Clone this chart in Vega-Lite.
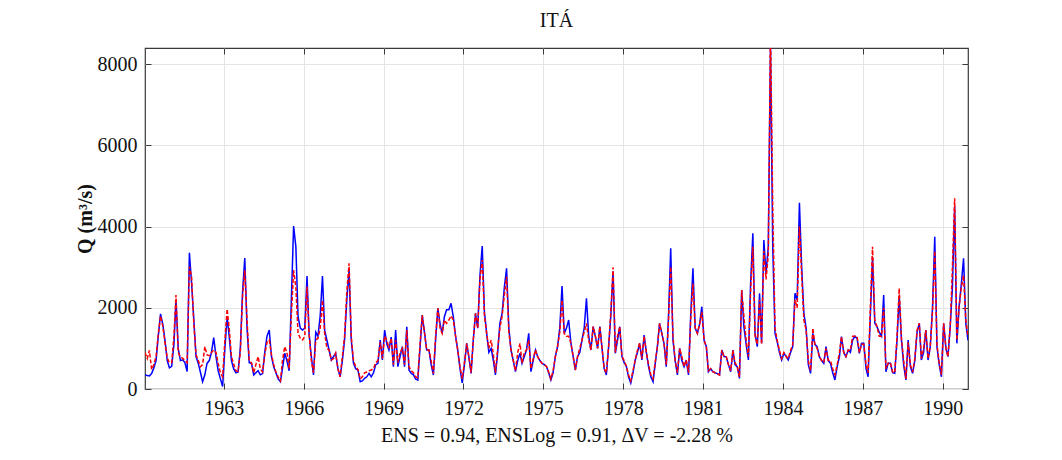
{
  "$schema": "https://vega.github.io/schema/vega-lite/v6.json",
  "autosize": "none",
  "width": 823,
  "height": 341,
  "padding": {"left": 145, "top": 48, "right": 94, "bottom": 71},
  "background": "white",
  "title": {"text": "ITÁ", "font": "Liberation Serif", "fontSize": 20, "fontWeight": "normal", "color": "#111", "offset": 17},
  "config": {
    "view": {"stroke": "#3a3a3a", "strokeWidth": 1.2},
    "axis": {"labelFont": "Liberation Serif", "titleFont": "Liberation Serif", "labelColor": "#111", "titleColor": "#111", "domain": false, "tickColor": "#3a3a3a"}
  },
  "data": {"values": [
    {"date":"1960-01-15","obs":350,"sim":900},{"date":"1960-02-15","obs":330,"sim":750},{"date":"1960-03-15","obs":320,"sim":950},{"date":"1960-04-15","obs":380,"sim":480},{"date":"1960-05-15","obs":520,"sim":600},{"date":"1960-06-15","obs":700,"sim":800},{"date":"1960-07-15","obs":1300,"sim":1350},{"date":"1960-08-15","obs":1850,"sim":1800},{"date":"1960-09-15","obs":1600,"sim":1550},{"date":"1960-10-15","obs":1200,"sim":1150},{"date":"1960-11-15","obs":700,"sim":760},{"date":"1960-12-15","obs":520,"sim":650},
    {"date":"1961-01-15","obs":560,"sim":650},{"date":"1961-02-15","obs":1100,"sim":1300},{"date":"1961-03-15","obs":2190,"sim":2315},{"date":"1961-04-15","obs":1000,"sim":900},{"date":"1961-05-15","obs":700,"sim":780},{"date":"1961-06-15","obs":720,"sim":760},{"date":"1961-07-15","obs":650,"sim":700},{"date":"1961-08-15","obs":430,"sim":650},{"date":"1961-09-15","obs":3357,"sim":3012},{"date":"1961-10-15","obs":2600,"sim":2767},{"date":"1961-11-15","obs":1700,"sim":1600},{"date":"1961-12-15","obs":800,"sim":850},
    {"date":"1962-01-15","obs":630,"sim":700},{"date":"1962-02-15","obs":400,"sim":550},{"date":"1962-03-15","obs":180,"sim":600},{"date":"1962-04-15","obs":350,"sim":1045},{"date":"1962-05-15","obs":630,"sim":840},{"date":"1962-06-15","obs":700,"sim":820},{"date":"1962-07-15","obs":900,"sim":900},{"date":"1962-08-15","obs":1265,"sim":960},{"date":"1962-09-15","obs":800,"sim":900},{"date":"1962-10-15","obs":450,"sim":630},{"date":"1962-11-15","obs":250,"sim":400},{"date":"1962-12-15","obs":60,"sim":300},
    {"date":"1963-01-15","obs":1000,"sim":1200},{"date":"1963-02-15","obs":1780,"sim":1970},{"date":"1963-03-15","obs":1300,"sim":1500},{"date":"1963-04-15","obs":700,"sim":800},{"date":"1963-05-15","obs":500,"sim":620},{"date":"1963-06-15","obs":400,"sim":450},{"date":"1963-07-15","obs":420,"sim":430},{"date":"1963-08-15","obs":1000,"sim":900},{"date":"1963-09-15","obs":2400,"sim":2300},{"date":"1963-10-15","obs":3227,"sim":2930},{"date":"1963-11-15","obs":1500,"sim":1700},{"date":"1963-12-15","obs":650,"sim":700},
    {"date":"1964-01-15","obs":630,"sim":650},{"date":"1964-02-15","obs":345,"sim":400},{"date":"1964-03-15","obs":400,"sim":600},{"date":"1964-04-15","obs":450,"sim":800},{"date":"1964-05-15","obs":350,"sim":500},{"date":"1964-06-15","obs":380,"sim":420},{"date":"1964-07-15","obs":900,"sim":850},{"date":"1964-08-15","obs":1300,"sim":1150},{"date":"1964-09-15","obs":1453,"sim":1207},{"date":"1964-10-15","obs":800,"sim":850},{"date":"1964-11-15","obs":550,"sim":600},{"date":"1964-12-15","obs":400,"sim":420},
    {"date":"1965-01-15","obs":250,"sim":300},{"date":"1965-02-15","obs":180,"sim":200},{"date":"1965-03-15","obs":500,"sim":700},{"date":"1965-04-15","obs":880,"sim":1045},{"date":"1965-05-15","obs":700,"sim":900},{"date":"1965-06-15","obs":450,"sim":500},{"date":"1965-07-15","obs":2200,"sim":1800},{"date":"1965-08-15","obs":4015,"sim":2930},{"date":"1965-09-15","obs":3500,"sim":2500},{"date":"1965-10-15","obs":1782,"sim":1370},{"date":"1965-11-15","obs":1500,"sim":1250},{"date":"1965-12-15","obs":1453,"sim":1207},
    {"date":"1966-01-15","obs":1500,"sim":1300},{"date":"1966-02-15","obs":2783,"sim":2520},{"date":"1966-03-15","obs":1370,"sim":1370},{"date":"1966-04-15","obs":800,"sim":700},{"date":"1966-05-15","obs":345,"sim":400},{"date":"1966-06-15","obs":1400,"sim":1200},{"date":"1966-07-15","obs":1300,"sim":1250},{"date":"1966-08-15","obs":1800,"sim":1500},{"date":"1966-09-15","obs":2783,"sim":2190},{"date":"1966-10-15","obs":1450,"sim":1370},{"date":"1966-11-15","obs":1200,"sim":1000},{"date":"1966-12-15","obs":960,"sim":960},
    {"date":"1967-01-15","obs":714,"sim":714},{"date":"1967-02-15","obs":800,"sim":750},{"date":"1967-03-15","obs":880,"sim":880},{"date":"1967-04-15","obs":500,"sim":500},{"date":"1967-05-15","obs":300,"sim":300},{"date":"1967-06-15","obs":700,"sim":800},{"date":"1967-07-15","obs":1207,"sim":1300},{"date":"1967-08-15","obs":2200,"sim":2400},{"date":"1967-09-15","obs":2930,"sim":3095},{"date":"1967-10-15","obs":1200,"sim":1300},{"date":"1967-11-15","obs":632,"sim":700},{"date":"1967-12-15","obs":500,"sim":550},
    {"date":"1968-01-15","obs":468,"sim":480},{"date":"1968-02-15","obs":180,"sim":250},{"date":"1968-03-15","obs":200,"sim":300},{"date":"1968-04-15","obs":262,"sim":400},{"date":"1968-05-15","obs":300,"sim":420},{"date":"1968-06-15","obs":386,"sim":450},{"date":"1968-07-15","obs":300,"sim":468},{"date":"1968-08-15","obs":400,"sim":500},{"date":"1968-09-15","obs":600,"sim":650},{"date":"1968-10-15","obs":632,"sim":700},{"date":"1968-11-15","obs":1207,"sim":1150},{"date":"1968-12-15","obs":714,"sim":750},
    {"date":"1969-01-15","obs":1453,"sim":1300},{"date":"1969-02-15","obs":1100,"sim":1200},{"date":"1969-03-15","obs":960,"sim":1000},{"date":"1969-04-15","obs":1280,"sim":1250},{"date":"1969-05-15","obs":550,"sim":600},{"date":"1969-06-15","obs":1453,"sim":1200},{"date":"1969-07-15","obs":550,"sim":650},{"date":"1969-08-15","obs":800,"sim":900},{"date":"1969-09-15","obs":1040,"sim":1000},{"date":"1969-10-15","obs":550,"sim":600},{"date":"1969-11-15","obs":1535,"sim":1450},{"date":"1969-12-15","obs":468,"sim":550},
    {"date":"1970-01-15","obs":386,"sim":450},{"date":"1970-02-15","obs":350,"sim":400},{"date":"1970-03-15","obs":250,"sim":300},{"date":"1970-04-15","obs":222,"sim":280},{"date":"1970-05-15","obs":1000,"sim":1100},{"date":"1970-06-15","obs":1823,"sim":1823},{"date":"1970-07-15","obs":1400,"sim":1400},{"date":"1970-08-15","obs":960,"sim":960},{"date":"1970-09-15","obs":960,"sim":960},{"date":"1970-10-15","obs":600,"sim":700},{"date":"1970-11-15","obs":345,"sim":380},{"date":"1970-12-15","obs":1200,"sim":1300},
    {"date":"1971-01-15","obs":1987,"sim":1987},{"date":"1971-02-15","obs":1600,"sim":1500},{"date":"1971-03-15","obs":1370,"sim":1370},{"date":"1971-04-15","obs":1782,"sim":1700},{"date":"1971-05-15","obs":1950,"sim":1617},{"date":"1971-06-15","obs":1950,"sim":1700},{"date":"1971-07-15","obs":2110,"sim":1800},{"date":"1971-08-15","obs":1782,"sim":1700},{"date":"1971-09-15","obs":1300,"sim":1300},{"date":"1971-10-15","obs":960,"sim":960},{"date":"1971-11-15","obs":500,"sim":550},{"date":"1971-12-15","obs":148,"sim":250},
    {"date":"1972-01-15","obs":600,"sim":650},{"date":"1972-02-15","obs":1125,"sim":1125},{"date":"1972-03-15","obs":796,"sim":796},{"date":"1972-04-15","obs":386,"sim":400},{"date":"1972-05-15","obs":1200,"sim":1200},{"date":"1972-06-15","obs":1864,"sim":1864},{"date":"1972-07-15","obs":1500,"sim":1500},{"date":"1972-08-15","obs":2800,"sim":2700},{"date":"1972-09-15","obs":3522,"sim":3177},{"date":"1972-10-15","obs":1900,"sim":1800},{"date":"1972-11-15","obs":1370,"sim":1370},{"date":"1972-12-15","obs":900,"sim":1000},
    {"date":"1973-01-15","obs":1000,"sim":1207},{"date":"1973-02-15","obs":700,"sim":850},{"date":"1973-03-15","obs":345,"sim":400},{"date":"1973-04-15","obs":900,"sim":1000},{"date":"1973-05-15","obs":1617,"sim":1500},{"date":"1973-06-15","obs":1864,"sim":1800},{"date":"1973-07-15","obs":2500,"sim":2300},{"date":"1973-08-15","obs":2972,"sim":2767},{"date":"1973-09-15","obs":1500,"sim":1400},{"date":"1973-10-15","obs":960,"sim":960},{"date":"1973-11-15","obs":700,"sim":700},{"date":"1973-12-15","obs":426,"sim":450},
    {"date":"1974-01-15","obs":700,"sim":900},{"date":"1974-02-15","obs":880,"sim":1125},{"date":"1974-03-15","obs":632,"sim":632},{"date":"1974-04-15","obs":800,"sim":900},{"date":"1974-05-15","obs":960,"sim":960},{"date":"1974-06-15","obs":1370,"sim":1200},{"date":"1974-07-15","obs":426,"sim":500},{"date":"1974-08-15","obs":700,"sim":750},{"date":"1974-09-15","obs":960,"sim":960},{"date":"1974-10-15","obs":800,"sim":796},{"date":"1974-11-15","obs":700,"sim":700},{"date":"1974-12-15","obs":632,"sim":632},
    {"date":"1975-01-15","obs":600,"sim":600},{"date":"1975-02-15","obs":550,"sim":550},{"date":"1975-03-15","obs":400,"sim":420},{"date":"1975-04-15","obs":222,"sim":250},{"date":"1975-05-15","obs":400,"sim":450},{"date":"1975-06-15","obs":796,"sim":796},{"date":"1975-07-15","obs":1040,"sim":1040},{"date":"1975-08-15","obs":1500,"sim":1400},{"date":"1975-09-15","obs":2537,"sim":2190},{"date":"1975-10-15","obs":1370,"sim":1370},{"date":"1975-11-15","obs":1500,"sim":1300},{"date":"1975-12-15","obs":1700,"sim":1300},
    {"date":"1976-01-15","obs":1125,"sim":1125},{"date":"1976-02-15","obs":800,"sim":800},{"date":"1976-03-15","obs":468,"sim":468},{"date":"1976-04-15","obs":796,"sim":796},{"date":"1976-05-15","obs":900,"sim":1000},{"date":"1976-06-15","obs":1207,"sim":1207},{"date":"1976-07-15","obs":1500,"sim":1400},{"date":"1976-08-15","obs":2233,"sim":1617},{"date":"1976-09-15","obs":1300,"sim":1200},{"date":"1976-10-15","obs":960,"sim":960},{"date":"1976-11-15","obs":1535,"sim":1535},{"date":"1976-12-15","obs":1300,"sim":1300},
    {"date":"1977-01-15","obs":1000,"sim":1000},{"date":"1977-02-15","obs":1535,"sim":1535},{"date":"1977-03-15","obs":1040,"sim":1040},{"date":"1977-04-15","obs":500,"sim":500},{"date":"1977-05-15","obs":345,"sim":400},{"date":"1977-06-15","obs":1040,"sim":1040},{"date":"1977-07-15","obs":1800,"sim":1900},{"date":"1977-08-15","obs":2900,"sim":2997},{"date":"1977-09-15","obs":880,"sim":900},{"date":"1977-10-15","obs":1200,"sim":1300},{"date":"1977-11-15","obs":1535,"sim":1535},{"date":"1977-12-15","obs":796,"sim":796},
    {"date":"1978-01-15","obs":650,"sim":700},{"date":"1978-02-15","obs":550,"sim":550},{"date":"1978-03-15","obs":300,"sim":350},{"date":"1978-04-15","obs":148,"sim":200},{"date":"1978-05-15","obs":400,"sim":450},{"date":"1978-06-15","obs":714,"sim":714},{"date":"1978-07-15","obs":900,"sim":950},{"date":"1978-08-15","obs":1125,"sim":1125},{"date":"1978-09-15","obs":714,"sim":750},{"date":"1978-10-15","obs":1330,"sim":1300},{"date":"1978-11-15","obs":900,"sim":900},{"date":"1978-12-15","obs":550,"sim":600},
    {"date":"1979-01-15","obs":300,"sim":350},{"date":"1979-02-15","obs":180,"sim":250},{"date":"1979-03-15","obs":600,"sim":650},{"date":"1979-04-15","obs":1040,"sim":1040},{"date":"1979-05-15","obs":1617,"sim":1617},{"date":"1979-06-15","obs":1370,"sim":1370},{"date":"1979-07-15","obs":1125,"sim":1125},{"date":"1979-08-15","obs":550,"sim":600},{"date":"1979-09-15","obs":1800,"sim":1700},{"date":"1979-10-15","obs":3465,"sim":3012},{"date":"1979-11-15","obs":1207,"sim":1300},{"date":"1979-12-15","obs":700,"sim":700},
    {"date":"1980-01-15","obs":345,"sim":400},{"date":"1980-02-15","obs":1000,"sim":1000},{"date":"1980-03-15","obs":700,"sim":800},{"date":"1980-04-15","obs":550,"sim":550},{"date":"1980-05-15","obs":714,"sim":714},{"date":"1980-06-15","obs":345,"sim":400},{"date":"1980-07-15","obs":1800,"sim":1700},{"date":"1980-08-15","obs":2972,"sim":2600},{"date":"1980-09-15","obs":1500,"sim":1500},{"date":"1980-10-15","obs":1370,"sim":1370},{"date":"1980-11-15","obs":1600,"sim":1600},{"date":"1980-12-15","obs":2027,"sim":1900},
    {"date":"1981-01-15","obs":1200,"sim":1200},{"date":"1981-02-15","obs":1040,"sim":1040},{"date":"1981-03-15","obs":426,"sim":450},{"date":"1981-04-15","obs":500,"sim":500},{"date":"1981-05-15","obs":426,"sim":426},{"date":"1981-06-15","obs":400,"sim":400},{"date":"1981-07-15","obs":380,"sim":380},{"date":"1981-08-15","obs":345,"sim":345},{"date":"1981-09-15","obs":960,"sim":960},{"date":"1981-10-15","obs":800,"sim":800},{"date":"1981-11-15","obs":796,"sim":796},{"date":"1981-12-15","obs":600,"sim":600},
    {"date":"1982-01-15","obs":426,"sim":450},{"date":"1982-02-15","obs":960,"sim":960},{"date":"1982-03-15","obs":600,"sim":650},{"date":"1982-04-15","obs":550,"sim":550},{"date":"1982-05-15","obs":262,"sim":300},{"date":"1982-06-15","obs":2438,"sim":2438},{"date":"1982-07-15","obs":1535,"sim":1800},{"date":"1982-08-15","obs":1100,"sim":1200},{"date":"1982-09-15","obs":714,"sim":800},{"date":"1982-10-15","obs":2600,"sim":2400},{"date":"1982-11-15","obs":3835,"sim":3505},{"date":"1982-12-15","obs":1371,"sim":1300},
    {"date":"1983-01-15","obs":1043,"sim":1100},{"date":"1983-02-15","obs":2356,"sim":2200},{"date":"1983-03-15","obs":1125,"sim":1100},{"date":"1983-04-15","obs":3670,"sim":3400},{"date":"1983-05-15","obs":2849,"sim":2700},{"date":"1983-06-15","obs":3505,"sim":3300},{"date":"1983-07-15","obs":8500,"sim":8900},{"date":"1983-08-15","obs":3500,"sim":4500},{"date":"1983-09-15","obs":1371,"sim":1500},{"date":"1983-10-15","obs":1165,"sim":1200},{"date":"1983-11-15","obs":900,"sim":950},{"date":"1983-12-15","obs":714,"sim":750},
    {"date":"1984-01-15","obs":878,"sim":900},{"date":"1984-02-15","obs":800,"sim":800},{"date":"1984-03-15","obs":714,"sim":750},{"date":"1984-04-15","obs":900,"sim":950},{"date":"1984-05-15","obs":1043,"sim":1100},{"date":"1984-06-15","obs":2356,"sim":2200},{"date":"1984-07-15","obs":2192,"sim":2000},{"date":"1984-08-15","obs":4590,"sim":4000},{"date":"1984-09-15","obs":3000,"sim":2800},{"date":"1984-10-15","obs":1863,"sim":1700},{"date":"1984-11-15","obs":1500,"sim":1450},{"date":"1984-12-15","obs":600,"sim":700},
    {"date":"1985-01-15","obs":385,"sim":450},{"date":"1985-02-15","obs":1371,"sim":1500},{"date":"1985-03-15","obs":1100,"sim":1100},{"date":"1985-04-15","obs":1043,"sim":1000},{"date":"1985-05-15","obs":796,"sim":800},{"date":"1985-06-15","obs":700,"sim":700},{"date":"1985-07-15","obs":632,"sim":650},{"date":"1985-08-15","obs":1043,"sim":1000},{"date":"1985-09-15","obs":700,"sim":700},{"date":"1985-10-15","obs":632,"sim":700},{"date":"1985-11-15","obs":400,"sim":500},{"date":"1985-12-15","obs":222,"sim":350},
    {"date":"1986-01-15","obs":550,"sim":600},{"date":"1986-02-15","obs":800,"sim":900},{"date":"1986-03-15","obs":1289,"sim":1289},{"date":"1986-04-15","obs":900,"sim":900},{"date":"1986-05-15","obs":796,"sim":796},{"date":"1986-06-15","obs":960,"sim":960},{"date":"1986-07-15","obs":900,"sim":950},{"date":"1986-08-15","obs":1207,"sim":1300},{"date":"1986-09-15","obs":1300,"sim":1300},{"date":"1986-10-15","obs":1248,"sim":1300},{"date":"1986-11-15","obs":880,"sim":900},{"date":"1986-12-15","obs":1125,"sim":1100},
    {"date":"1987-01-15","obs":1125,"sim":1100},{"date":"1987-02-15","obs":500,"sim":600},{"date":"1987-03-15","obs":300,"sim":400},{"date":"1987-04-15","obs":1800,"sim":2000},{"date":"1987-05-15","obs":3260,"sim":3505},{"date":"1987-06-15","obs":1617,"sim":1700},{"date":"1987-07-15","obs":1535,"sim":1535},{"date":"1987-08-15","obs":1400,"sim":1300},{"date":"1987-09-15","obs":1300,"sim":1300},{"date":"1987-10-15","obs":2315,"sim":2000},{"date":"1987-11-15","obs":426,"sim":500},{"date":"1987-12-15","obs":632,"sim":632},
    {"date":"1988-01-15","obs":632,"sim":650},{"date":"1988-02-15","obs":400,"sim":420},{"date":"1988-03-15","obs":386,"sim":400},{"date":"1988-04-15","obs":1200,"sim":1300},{"date":"1988-05-15","obs":2300,"sim":2480},{"date":"1988-06-15","obs":1207,"sim":1250},{"date":"1988-07-15","obs":600,"sim":700},{"date":"1988-08-15","obs":222,"sim":250},{"date":"1988-09-15","obs":1207,"sim":1150},{"date":"1988-10-15","obs":550,"sim":600},{"date":"1988-11-15","obs":386,"sim":420},{"date":"1988-12-15","obs":700,"sim":750},
    {"date":"1989-01-15","obs":1400,"sim":1450},{"date":"1989-02-15","obs":1617,"sim":1617},{"date":"1989-03-15","obs":714,"sim":750},{"date":"1989-04-15","obs":900,"sim":1000},{"date":"1989-05-15","obs":1453,"sim":1453},{"date":"1989-06-15","obs":714,"sim":750},{"date":"1989-07-15","obs":1040,"sim":1040},{"date":"1989-08-15","obs":2000,"sim":1900},{"date":"1989-09-15","obs":3751,"sim":3400},{"date":"1989-10-15","obs":1040,"sim":1100},{"date":"1989-11-15","obs":600,"sim":650},{"date":"1989-12-15","obs":300,"sim":350},
    {"date":"1990-01-15","obs":1617,"sim":1617},{"date":"1990-02-15","obs":1000,"sim":1000},{"date":"1990-03-15","obs":796,"sim":796},{"date":"1990-04-15","obs":1535,"sim":1535},{"date":"1990-05-15","obs":2500,"sim":3000},{"date":"1990-06-15","obs":4500,"sim":4697},{"date":"1990-07-15","obs":1125,"sim":1200},{"date":"1990-08-15","obs":2028,"sim":2028},{"date":"1990-09-15","obs":2600,"sim":2500},{"date":"1990-10-15","obs":3219,"sim":2800},{"date":"1990-11-15","obs":1617,"sim":1700},{"date":"1990-12-15","obs":1200,"sim":1300}
  ]},
  "resolve": {"axis": {"x": "independent", "y": "independent"}},
  "layer": [
    {
      "mark": {"type": "line", "color": "#0000ff", "strokeWidth": 1.5, "clip": true},
      "encoding": {
        "x": {
          "field": "date", "type": "temporal",
          "scale": {"domain": [{"year": 1960, "month": 1, "date": 15}, {"year": 1990, "month": 12, "date": 15}], "nice": false},
          "axis": {
            "orient": "bottom",
            "values": [{"year": 1963}, {"year": 1966}, {"year": 1969}, {"year": 1972}, {"year": 1975}, {"year": 1978}, {"year": 1981}, {"year": 1984}, {"year": 1987}, {"year": 1990}],
            "format": "%Y", "labelFontSize": 20, "labelPadding": 15, "tickSize": -6,
            "grid": true, "gridColor": "#e4e4e4", "gridWidth": 1,
            "title": "ENS = 0.94, ENSLog = 0.91, ΔV = -2.28 %", "titleFontSize": 20, "titleFontWeight": "normal", "titlePadding": 7
          }
        },
        "y": {
          "field": "obs", "type": "quantitative",
          "scale": {"domain": [0, 8400], "nice": false},
          "axis": {
            "orient": "left", "values": [0, 2000, 4000, 6000, 8000], "format": "d",
            "labelFontSize": 20, "labelPadding": 14, "tickSize": -6,
            "grid": true, "gridColor": "#e4e4e4", "gridWidth": 1,
            "title": "Q (m³/s)", "titleFontSize": 20, "titleFontWeight": "bold", "titlePadding": 2
          }
        }
      }
    },
    {
      "mark": {"type": "line", "color": "#ff0000", "strokeWidth": 1.5, "strokeDash": [4, 2], "clip": true},
      "encoding": {
        "x": {
          "field": "date", "type": "temporal",
          "axis": {
            "orient": "top", "labels": false, "grid": false, "tickSize": -6, "title": null,
            "values": [{"year": 1963}, {"year": 1966}, {"year": 1969}, {"year": 1972}, {"year": 1975}, {"year": 1978}, {"year": 1981}, {"year": 1984}, {"year": 1987}, {"year": 1990}]
          }
        },
        "y": {
          "field": "sim", "type": "quantitative",
          "axis": {"orient": "right", "labels": false, "grid": false, "tickSize": -6, "title": null, "values": [0, 2000, 4000, 6000, 8000]}
        }
      }
    }
  ]
}
